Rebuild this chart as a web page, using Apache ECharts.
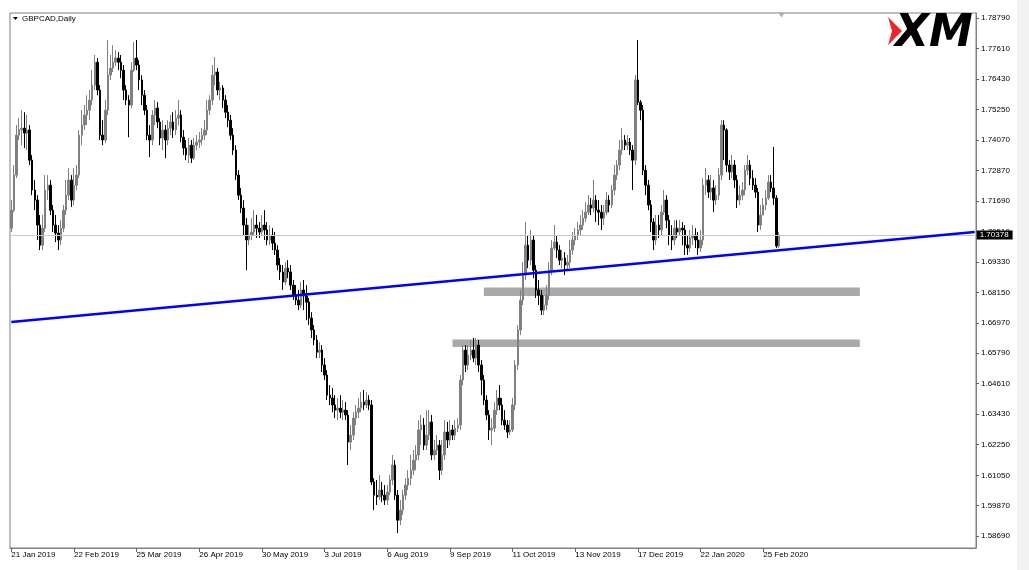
<!DOCTYPE html>
<html>
<head>
<meta charset="utf-8">
<script src="https://cdn.jsdelivr.net/npm/echarts@6/dist/echarts.min.js"></script>
<style>
html,body{margin:0;padding:0;background:#fff;}
#chart{width:1029px;height:570px;}
</style>
</head>
<body>
<div id="chart"></div>
<script>
// ---- data (GBPCAD daily) ----
var symbolTitle = 'GBPCAD,Daily';
var tickLabels = ['21 Jan 2019','22 Feb 2019','25 Mar 2019','26 Apr 2019','30 May 2019','3 Jul 2019','6 Aug 2019','9 Sep 2019','11 Oct 2019','13 Nov 2019','17 Dec 2019','22 Jan 2020','25 Feb 2020'];
var labelEvery = 24;
var slotCount = 370;
var yTicks = [1.78790,1.77610,1.76430,1.75250,1.74070,1.72870,1.71690,1.70510,1.69330,1.68150,1.66970,1.65790,1.64610,1.63430,1.62250,1.61050,1.59870,1.58690];
var yMin = 1.5823, yMax = 1.7899;
var lastPrice = 1.70378;
var trendStart = 1.6700, trendEnd = 1.7049;
var zone1 = [181, 325, 1.6834, 1.6801];
var zone2 = [169, 325, 1.6632, 1.6603];

var opens = [
1.7064,1.7134,1.7270,1.7425,1.7445,1.7452,1.7433,1.7445,1.7328,1.7212,
1.7173,1.7076,1.6998,1.7064,1.7212,1.7231,1.7134,1.7076,1.7045,1.7018,
1.7064,1.7134,1.7192,1.7251,1.7173,1.7231,1.7270,1.7425,1.7464,1.7503,
1.7522,1.7561,1.7619,1.7708,1.7600,1.7425,1.7406,1.7522,1.7658,1.7685,
1.7708,1.7724,1.7708,1.7677,1.7600,1.7561,1.7542,1.7677,1.7724,1.7697,
1.7639,1.7580,1.7522,1.7425,1.7406,1.7503,1.7530,1.7476,1.7414,1.7445,
1.7406,1.7452,1.7476,1.7445,1.7491,1.7503,1.7417,1.7375,1.7348,1.7386,
1.7336,1.7386,1.7398,1.7406,1.7425,1.7445,1.7522,1.7561,1.7658,1.7670,
1.7600,1.7608,1.7561,1.7514,1.7483,1.7425,1.7367,1.7270,1.7192,1.7142,
1.7076,1.7018,1.7037,1.7049,1.7076,1.7064,1.7049,1.7076,1.7057,1.7018,
1.7037,1.7006,1.6979,1.6921,1.6894,1.6855,1.6909,1.6894,1.6843,1.6804,
1.6785,1.6766,1.6824,1.6801,1.6777,1.6715,1.6669,1.6630,1.6583,1.6591,
1.6533,1.6494,1.6416,1.6405,1.6378,1.6358,1.6366,1.6350,1.6358,1.6339,
1.6234,1.6261,1.6327,1.6350,1.6366,1.6389,1.6378,1.6397,1.6378,1.6079,
1.6028,1.6021,1.6048,1.6028,1.6009,1.6040,1.6087,1.6145,1.6028,1.5931,
1.5970,1.6028,1.6067,1.6094,1.6125,1.6164,1.6184,1.6281,1.6300,1.6222,
1.6261,1.6312,1.6184,1.6203,1.6222,1.6125,1.6184,1.6273,1.6242,1.6281,
1.6261,1.6288,1.6300,1.6475,1.6591,1.6533,1.6572,1.6591,1.6560,1.6610,
1.6533,1.6475,1.6397,1.6339,1.6281,1.6288,1.6358,1.6405,1.6378,1.6319,
1.6300,1.6273,1.6281,1.6378,1.6533,1.6669,1.6785,1.6882,1.6998,1.6940,
1.7018,1.6901,1.6824,1.6804,1.6746,1.6766,1.6804,1.6901,1.6987,1.7010,
1.6979,1.6940,1.6948,1.6921,1.6932,1.6979,1.7018,1.7037,1.7057,1.7076,
1.7103,1.7126,1.7154,1.7142,1.7173,1.7134,1.7126,1.7103,1.7126,1.7173,
1.7154,1.7212,1.7270,1.7309,1.7367,1.7406,1.7386,1.7398,1.7367,1.7328,
1.7639,1.7553,1.7522,1.7289,1.7231,1.7154,1.7088,1.7018,1.7076,1.7057,
1.7126,1.7173,1.7095,1.7037,1.7018,1.7064,1.7049,1.7064,1.7057,1.6998,
1.6987,1.7026,1.7037,1.7018,1.6987,1.7018,1.7231,1.7251,1.7204,1.7220,
1.7173,1.7192,1.7270,1.7464,1.7445,1.7309,1.7282,1.7309,1.7251,1.7173,
1.7192,1.7212,1.7289,1.7309,1.7258,1.7231,1.7204,1.7076,1.7115,1.7154,
1.7181,1.7243,1.7220,1.7181,1.6995
];
var closes = [
1.7134,1.7270,1.7425,1.7445,1.7452,1.7433,1.7445,1.7328,1.7212,1.7173,
1.7076,1.6998,1.7064,1.7212,1.7231,1.7134,1.7076,1.7045,1.7018,1.7064,
1.7134,1.7192,1.7251,1.7173,1.7231,1.7270,1.7425,1.7464,1.7503,1.7522,
1.7561,1.7619,1.7708,1.7600,1.7425,1.7406,1.7522,1.7658,1.7685,1.7708,
1.7724,1.7708,1.7677,1.7600,1.7561,1.7542,1.7677,1.7724,1.7697,1.7639,
1.7580,1.7522,1.7425,1.7406,1.7503,1.7530,1.7476,1.7414,1.7445,1.7406,
1.7452,1.7476,1.7445,1.7491,1.7503,1.7417,1.7375,1.7348,1.7386,1.7336,
1.7386,1.7398,1.7406,1.7425,1.7445,1.7522,1.7561,1.7658,1.7670,1.7600,
1.7608,1.7561,1.7514,1.7483,1.7425,1.7367,1.7270,1.7192,1.7142,1.7076,
1.7018,1.7037,1.7049,1.7076,1.7064,1.7049,1.7076,1.7057,1.7018,1.7037,
1.7006,1.6979,1.6921,1.6894,1.6855,1.6909,1.6894,1.6843,1.6804,1.6785,
1.6766,1.6824,1.6801,1.6777,1.6715,1.6669,1.6630,1.6583,1.6591,1.6533,
1.6494,1.6416,1.6405,1.6378,1.6358,1.6366,1.6350,1.6358,1.6339,1.6234,
1.6261,1.6327,1.6350,1.6366,1.6389,1.6378,1.6397,1.6378,1.6079,1.6028,
1.6021,1.6048,1.6028,1.6009,1.6040,1.6087,1.6145,1.6028,1.5931,1.5970,
1.6028,1.6067,1.6094,1.6125,1.6164,1.6184,1.6281,1.6300,1.6222,1.6261,
1.6312,1.6184,1.6203,1.6222,1.6125,1.6184,1.6273,1.6242,1.6281,1.6261,
1.6288,1.6300,1.6475,1.6591,1.6533,1.6572,1.6591,1.6560,1.6610,1.6533,
1.6475,1.6397,1.6339,1.6281,1.6288,1.6358,1.6405,1.6378,1.6319,1.6300,
1.6273,1.6281,1.6378,1.6533,1.6669,1.6785,1.6882,1.6998,1.6940,1.7018,
1.6901,1.6824,1.6804,1.6746,1.6766,1.6804,1.6901,1.6987,1.7010,1.6979,
1.6940,1.6948,1.6921,1.6932,1.6979,1.7018,1.7037,1.7057,1.7076,1.7103,
1.7126,1.7154,1.7142,1.7173,1.7134,1.7126,1.7103,1.7126,1.7173,1.7154,
1.7212,1.7270,1.7309,1.7367,1.7406,1.7386,1.7398,1.7367,1.7328,1.7639,
1.7553,1.7522,1.7289,1.7231,1.7154,1.7088,1.7018,1.7076,1.7057,1.7126,
1.7173,1.7095,1.7037,1.7018,1.7064,1.7049,1.7064,1.7057,1.6998,1.6987,
1.7026,1.7037,1.7018,1.6987,1.7018,1.7231,1.7251,1.7204,1.7220,1.7173,
1.7192,1.7270,1.7464,1.7445,1.7309,1.7282,1.7309,1.7251,1.7173,1.7192,
1.7212,1.7289,1.7309,1.7258,1.7231,1.7204,1.7076,1.7115,1.7154,1.7181,
1.7243,1.7220,1.7181,1.6995,1.70378
];
var lows = [
1.7049,1.7126,1.7258,1.7406,1.7386,1.7375,1.7367,1.7309,1.7192,1.7134,
1.7018,1.6979,1.6979,1.7049,1.7173,1.7115,1.7049,1.7010,1.6979,1.6998,
1.7049,1.7115,1.7173,1.7146,1.7154,1.7212,1.7258,1.7386,1.7445,1.7464,
1.7483,1.7542,1.7600,1.7580,1.7406,1.7386,1.7394,1.7503,1.7639,1.7670,
1.7693,1.7677,1.7646,1.7561,1.7542,1.7417,1.7530,1.7670,1.7677,1.7600,
1.7542,1.7503,1.7406,1.7340,1.7386,1.7464,1.7452,1.7386,1.7367,1.7336,
1.7386,1.7425,1.7414,1.7425,1.7464,1.7398,1.7348,1.7328,1.7317,1.7317,
1.7328,1.7367,1.7375,1.7386,1.7406,1.7425,1.7503,1.7542,1.7619,1.7580,
1.7561,1.7530,1.7491,1.7456,1.7406,1.7348,1.7251,1.7173,1.7123,1.7037,
1.6901,1.6998,1.7018,1.7037,1.7026,1.7026,1.7037,1.7018,1.6998,1.6998,
1.6979,1.6960,1.6901,1.6863,1.6824,1.6843,1.6870,1.6824,1.6785,1.6766,
1.6746,1.6754,1.6746,1.6707,1.6688,1.6638,1.6610,1.6560,1.6560,1.6506,
1.6475,1.6397,1.6378,1.6350,1.6327,1.6319,1.6327,1.6319,1.6319,1.6145,
1.6203,1.6242,1.6300,1.6327,1.6350,1.6358,1.6366,1.6358,1.6067,1.5970,
1.5990,1.6009,1.6001,1.5990,1.5990,1.6028,1.6067,1.6009,1.5881,1.5912,
1.5951,1.6009,1.6048,1.6067,1.6106,1.6125,1.6164,1.6222,1.6203,1.6203,
1.6242,1.6164,1.6164,1.6184,1.6087,1.6106,1.6164,1.6211,1.6222,1.6242,
1.6242,1.6273,1.6281,1.6455,1.6506,1.6513,1.6552,1.6544,1.6533,1.6506,
1.6416,1.6378,1.6319,1.6242,1.6222,1.6273,1.6339,1.6358,1.6300,1.6281,
1.6250,1.6261,1.6273,1.6358,1.6513,1.6649,1.6766,1.6863,1.6909,1.6921,
1.6870,1.6793,1.6766,1.6727,1.6727,1.6746,1.6785,1.6882,1.6979,1.6948,
1.6921,1.6909,1.6882,1.6901,1.6909,1.6960,1.6998,1.7018,1.7037,1.7057,
1.7088,1.7115,1.7115,1.7126,1.7088,1.7076,1.7057,1.7076,1.7115,1.7126,
1.7142,1.7192,1.7251,1.7289,1.7348,1.7367,1.7367,1.7348,1.7212,1.7309,
1.7542,1.7483,1.7270,1.7192,1.7134,1.7049,1.6979,1.6998,1.7026,1.7037,
1.7115,1.7064,1.6998,1.6979,1.6998,1.7026,1.7037,1.6998,1.6960,1.6960,
1.6971,1.6998,1.6987,1.6960,1.6971,1.6998,1.7192,1.7181,1.7173,1.7126,
1.7154,1.7173,1.7251,1.7328,1.7282,1.7251,1.7258,1.7220,1.7142,1.7154,
1.7173,1.7192,1.7270,1.7231,1.7212,1.7181,1.7049,1.7057,1.7115,1.7134,
1.7173,1.7204,1.7154,1.6987,1.6987
];
var highs = [
1.7173,1.7309,1.7464,1.7491,1.7522,1.7514,1.7503,1.7464,1.7348,1.7251,
1.7192,1.7115,1.7115,1.7270,1.7270,1.7251,1.7154,1.7115,1.7076,1.7095,
1.7154,1.7251,1.7297,1.7270,1.7297,1.7309,1.7445,1.7522,1.7542,1.7580,
1.7600,1.7677,1.7736,1.7724,1.7619,1.7483,1.7561,1.7794,1.7736,1.7774,
1.7755,1.7747,1.7736,1.7697,1.7619,1.7580,1.7708,1.7786,1.7794,1.7716,
1.7658,1.7600,1.7542,1.7464,1.7522,1.7561,1.7553,1.7491,1.7483,1.7464,
1.7483,1.7503,1.7514,1.7522,1.7561,1.7522,1.7445,1.7406,1.7414,1.7406,
1.7414,1.7425,1.7437,1.7452,1.7483,1.7561,1.7580,1.7697,1.7728,1.7685,
1.7631,1.7619,1.7580,1.7542,1.7503,1.7452,1.7386,1.7289,1.7220,1.7173,
1.7103,1.7076,1.7103,1.7134,1.7115,1.7088,1.7115,1.7134,1.7088,1.7076,
1.7064,1.7049,1.6998,1.6948,1.6921,1.6932,1.6940,1.6921,1.6863,1.6843,
1.6824,1.6855,1.6863,1.6843,1.6793,1.6738,1.6688,1.6649,1.6622,1.6610,
1.6560,1.6513,1.6455,1.6444,1.6416,1.6405,1.6416,1.6397,1.6389,1.6358,
1.6300,1.6350,1.6378,1.6405,1.6428,1.6436,1.6428,1.6416,1.6397,1.6094,
1.6087,1.6106,1.6079,1.6067,1.6067,1.6106,1.6184,1.6164,1.6048,1.6009,
1.6048,1.6094,1.6125,1.6184,1.6203,1.6222,1.6319,1.6339,1.6327,1.6358,
1.6358,1.6339,1.6242,1.6261,1.6242,1.6242,1.6319,1.6312,1.6319,1.6300,
1.6319,1.6327,1.6494,1.6610,1.6610,1.6610,1.6630,1.6638,1.6638,1.6630,
1.6552,1.6494,1.6416,1.6358,1.6327,1.6389,1.6436,1.6455,1.6405,1.6358,
1.6319,1.6319,1.6405,1.6552,1.6688,1.6824,1.6932,1.7088,1.7037,1.7057,
1.7037,1.6921,1.6863,1.6824,1.6804,1.6843,1.6932,1.7018,1.7076,1.7037,
1.6998,1.6979,1.6971,1.6960,1.7018,1.7049,1.7064,1.7088,1.7115,1.7134,
1.7165,1.7192,1.7181,1.7251,1.7192,1.7173,1.7154,1.7154,1.7204,1.7192,
1.7231,1.7309,1.7328,1.7406,1.7452,1.7425,1.7425,1.7414,1.7386,1.7658,
1.7794,1.7561,1.7542,1.7309,1.7251,1.7173,1.7103,1.7115,1.7115,1.7154,
1.7212,1.7192,1.7115,1.7076,1.7095,1.7095,1.7095,1.7088,1.7076,1.7037,
1.7057,1.7076,1.7064,1.7049,1.7057,1.7258,1.7297,1.7270,1.7270,1.7251,
1.7231,1.7297,1.7483,1.7483,1.7452,1.7328,1.7348,1.7328,1.7270,1.7231,
1.7243,1.7309,1.7348,1.7328,1.7289,1.7258,1.7220,1.7154,1.7181,1.7212,
1.7270,1.7270,1.7379,1.7192,1.7049
];

// ---- build library structures ----
var categories = [];
for (var i = 0; i < slotCount; i++) categories.push(String(i));
var candleData = opens.map(function (o, k) { return [o, closes[k], lows[k], highs[k]]; });
function isLabelSlot(idx) { return idx % labelEvery === 0 && (idx / labelEvery) < tickLabels.length; }

var FONT = 'Liberation Sans';
var chart = echarts.init(document.getElementById('chart'), null, {renderer: 'canvas'});
chart.setOption({
  animation: false,
  backgroundColor: '#ffffff',
  title: {
    text: symbolTitle, left: 22, top: 15, padding: 0,
    textStyle: {fontSize: 8, fontWeight: 'normal', color: '#000', fontFamily: FONT}
  },
  grid: {left: 10, right: 53, top: 13, bottom: 22, show: true, borderColor: '#808080', borderWidth: 1, backgroundColor: 'transparent'},
  xAxis: {
    type: 'category', data: categories, boundaryGap: true,
    axisLine: {show: true, lineStyle: {color: '#808080', width: 1}},
    axisTick: {show: true, alignWithLabel: true, length: 4, interval: function (idx) { return isLabelSlot(idx); }, lineStyle: {color: '#606060'}},
    axisLabel: {
      interval: function (idx) { return isLabelSlot(idx); },
      formatter: function (v) { var n = parseInt(v, 10); return isLabelSlot(n) ? tickLabels[n / labelEvery] : ''; },
      align: 'left', color: '#000', fontSize: 8, fontFamily: FONT, margin: 3
    },
    splitLine: {show: false}
  },
  yAxis: {
    type: 'value', position: 'right', min: yMin, max: yMax, scale: true,
    axisLine: {show: true, lineStyle: {color: '#808080', width: 1}},
    axisTick: {show: true, length: 3, customValues: yTicks, lineStyle: {color: '#606060'}},
    axisLabel: {customValues: yTicks, formatter: function (v) { return v.toFixed(5); }, color: '#000', fontSize: 8, fontFamily: FONT, margin: 5},
    splitLine: {show: false}
  },
  series: [{
    type: 'candlestick',
    data: candleData,
    barWidth: 2,
    itemStyle: {color: '#808080', color0: '#000000', borderColor: '#808080', borderColor0: '#000000', borderWidth: 1},
    markArea: {
      silent: true,
      itemStyle: {color: '#a9a9a9', opacity: 1},
      data: [
        [{coord: [zone1[0], zone1[2]]}, {coord: [zone1[1], zone1[3]]}],
        [{coord: [zone2[0], zone2[2]]}, {coord: [zone2[1], zone2[3]]}]
      ]
    },
    markLine: {
      silent: true, symbol: ['none', 'none'], animation: false,
      data: [
        [{coord: [0, lastPrice], lineStyle: {color: '#c8c8c8', width: 1, type: 'solid'},
          label: {show: true, position: 'end', formatter: lastPrice.toFixed(5), backgroundColor: '#000', color: '#fff', fontSize: 8, fontFamily: FONT, lineHeight: 8, padding: [1, 4, 0, 3], distance: 2}},
         {coord: [slotCount - 1, lastPrice]}],
        [{coord: [0, trendStart], lineStyle: {color: '#0000ff', width: 2.5, type: 'solid'}, label: {show: false}},
         {coord: [slotCount - 1, trendEnd]}]
      ]
    },
    markPoint: {
      silent: true,
      data: [{coord: [opens.length, yMax], symbol: 'triangle', symbolRotate: 180, symbolSize: [7, 5], symbolOffset: [0, 2], itemStyle: {color: '#b0b0b0'}, label: {show: false}}]
    }
  }],
  graphic: [
    {type: 'polygon', shape: {points: [[13, 17], [18, 17], [15.5, 20]]}, style: {fill: '#000'}},
    {type: 'rect', shape: {x: 1017, y: 0, width: 12, height: 570}, style: {fill: '#f2f2f2'}},
    {type: 'polygon', shape: {points: [[888, 17], [902, 31], [888, 45], [892, 31]]}, style: {fill: '#e8282e'}},
    {type: 'text', left: 895, top: 13, style: {text: 'XM', fontSize: 44, fontWeight: 'bold', fontStyle: 'italic', fontFamily: 'DejaVu Sans', fill: '#000'}}
  ]
});
</script>
</body>
</html>
